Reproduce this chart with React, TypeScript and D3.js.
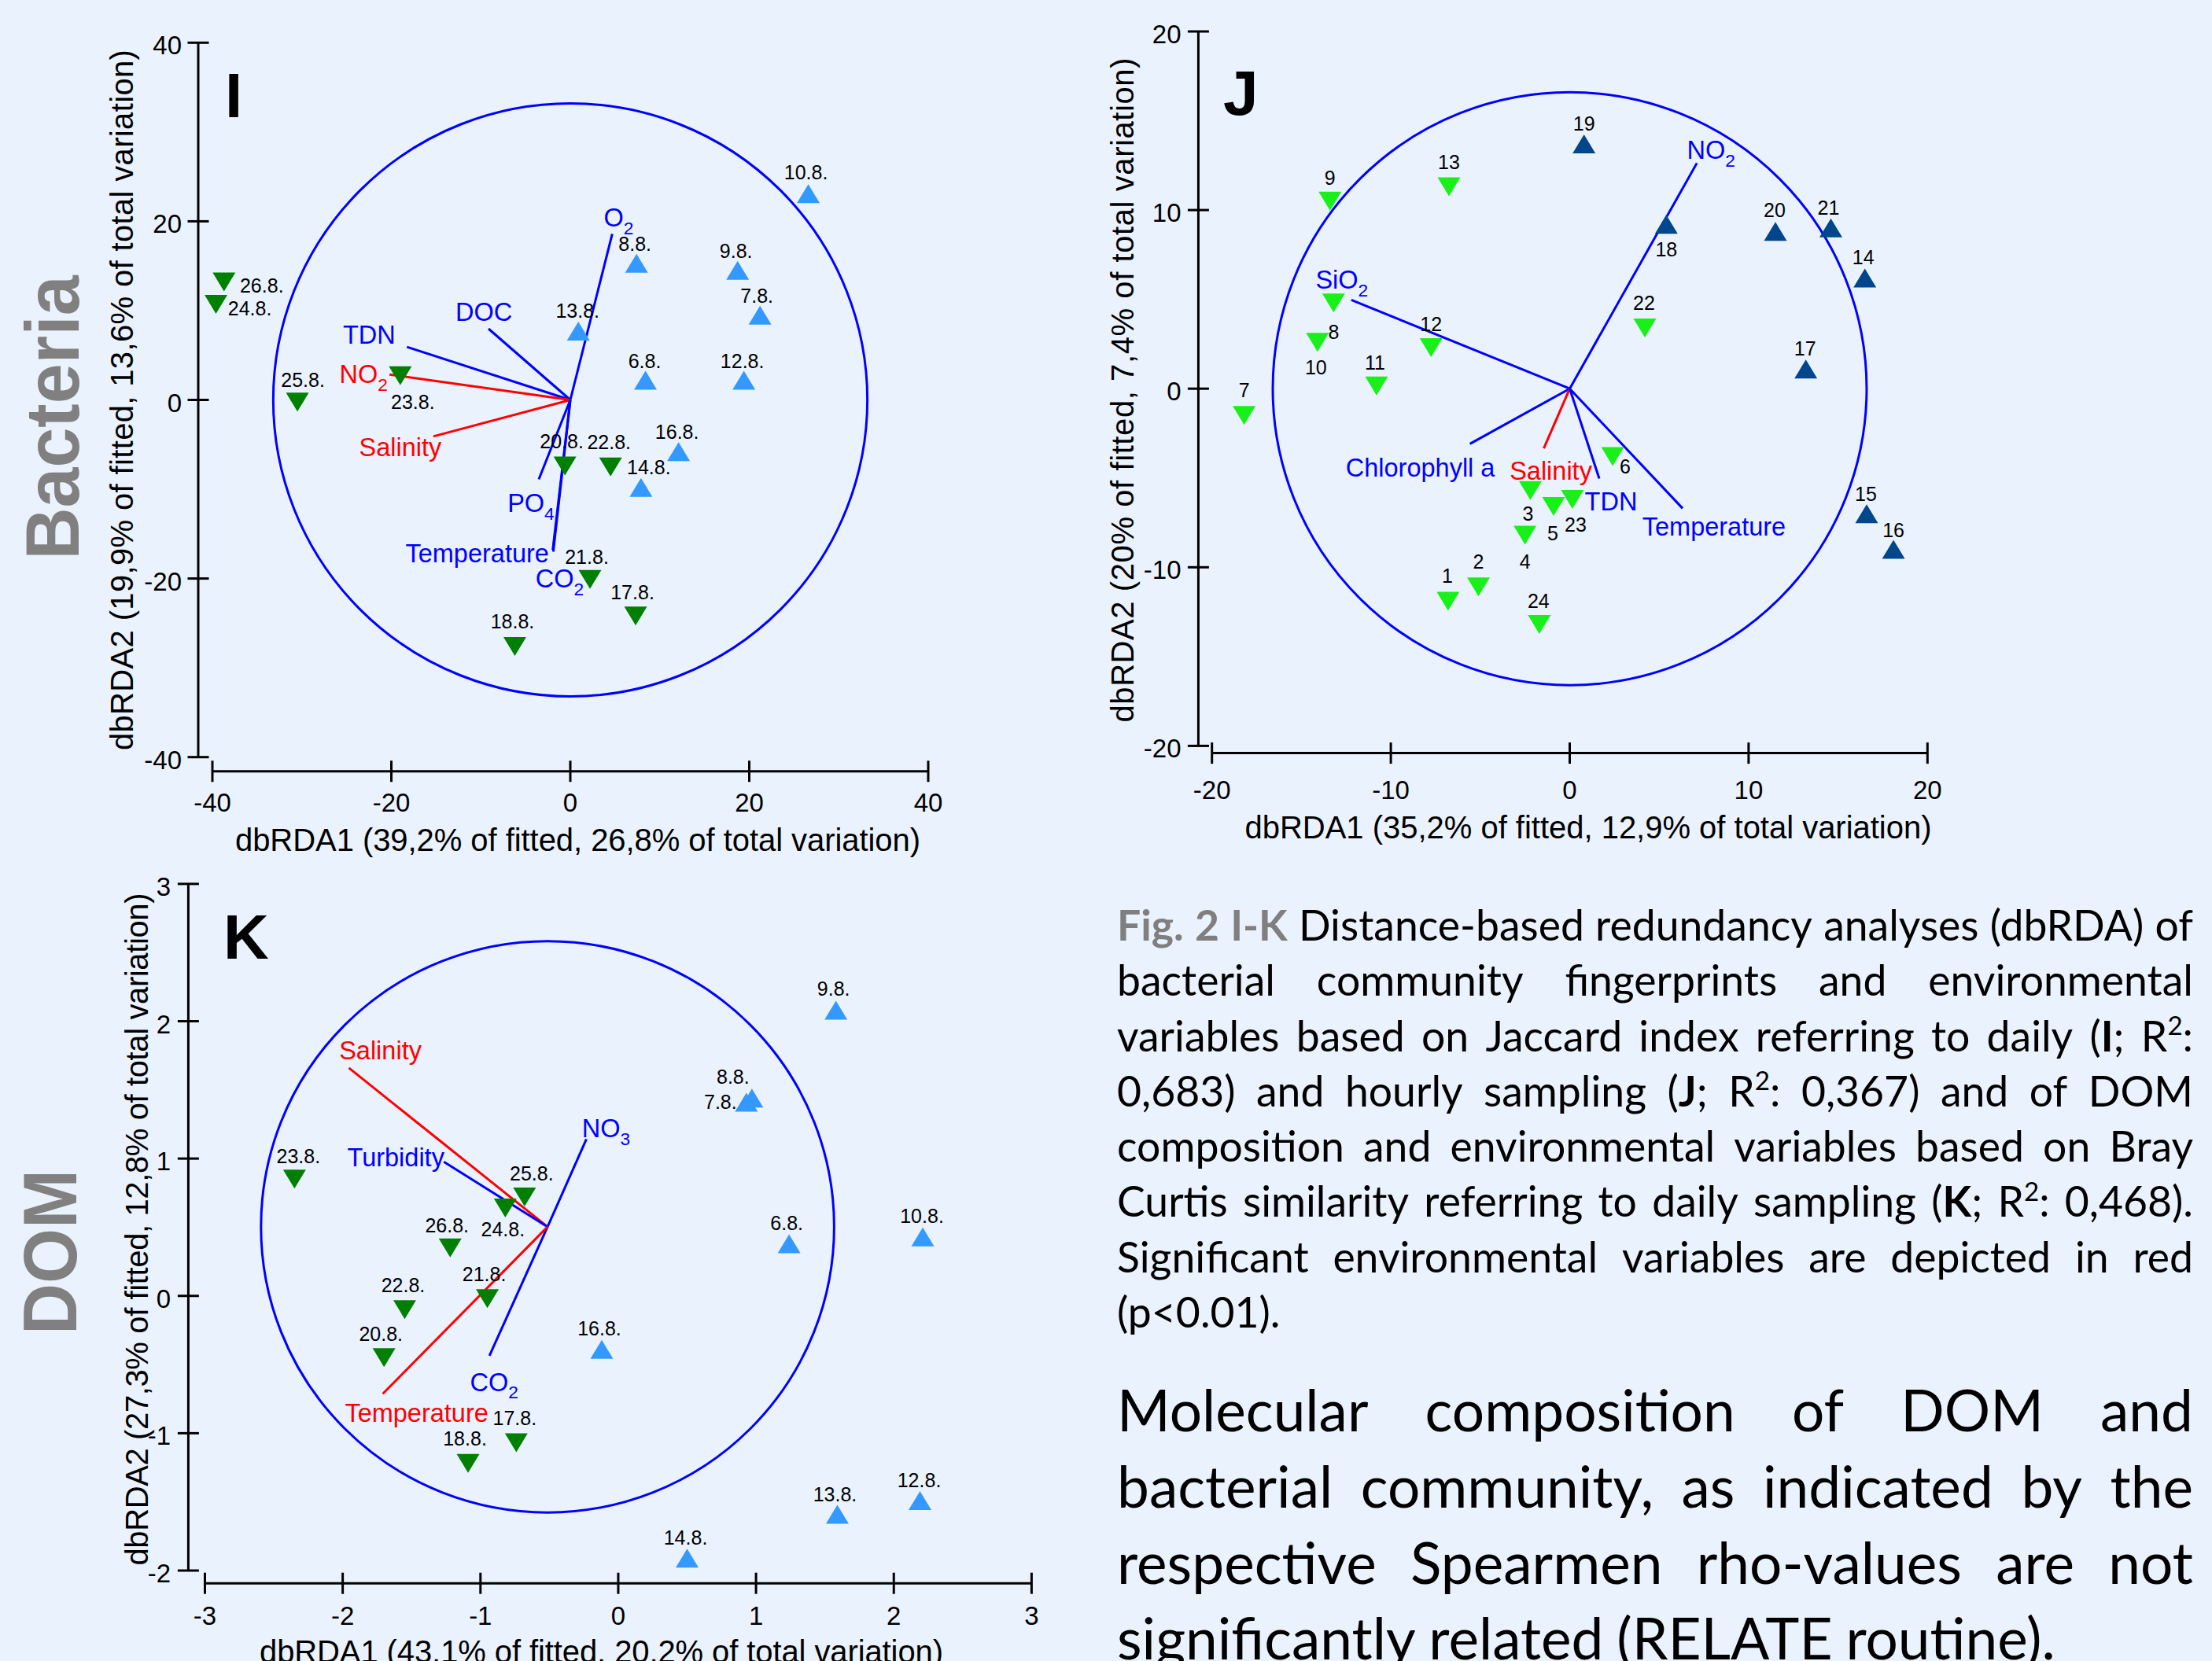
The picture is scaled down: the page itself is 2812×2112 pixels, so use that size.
import React, { useEffect, useRef } from "react";
import * as d3 from "d3";

// ---------------- Panel I : Bacteria, daily sampling ----------------
const iSamples = ["10.8.", "8.8.", "9.8.", "7.8.", "13.8.", "6.8.", "12.8.", "16.8.", "14.8.", "26.8.", "24.8.", "25.8.", "23.8.", "20.8.", "22.8.", "21.8.", "17.8.", "18.8."];
const iAxis1 = [26.6, 7.4, 18.7, 21.2, 0.9, 8.4, 19.4, 12.1, 7.9, -38.7, -39.6, -30.5, -19.0, -0.6, 4.5, 2.2, 7.3, -6.2];
const iAxis2 = [23.1, 15.3, 14.5, 9.5, 7.7, 2.2, 2.2, -5.8, -9.8, 13.2, 10.7, -0.25, 2.7, -7.4, -7.5, -20.1, -24.2, -27.6];
const iGroup = ["early", "early", "early", "early", "early", "early", "early", "early", "early", "late", "late", "late", "late", "late", "late", "late", "late", "late"];
const iVars = ["O2", "DOC", "TDN", "NO2", "Salinity", "PO4", "Temperature", "CO2"];
const iVarAxis1 = [4.69, -9.14, -18.26, -20.2, -15.3, -3.52, -1.96, -1.9];
const iVarAxis2 = [18.6, 7.97, 5.93, 2.84, -4.08, -8.9, -16.8, -17.0];
const iVarSignificant = [false, false, false, true, true, false, false, false];
const iTicks = [-40, -20, 0, 20, 40];

// ---------------- Panel J : Bacteria, hourly sampling ----------------
const jSamples = ["1", "2", "3", "4", "5", "6", "7", "8", "9", "10", "11", "12", "13", "14", "15", "16", "17", "18", "19", "20", "21", "22", "23", "24"];
const jAxis1 = [-6.8, -5.1, -2.2, -2.5, -0.9, 2.4, -18.2, -13.2, -13.4, -14.1, -10.8, -7.75, -6.75, 16.5, 16.6, 18.1, 13.2, 5.4, 0.8, 11.5, 14.6, 4.2, 0.15, -1.7];
const jAxis2 = [-11.9, -11.1, -5.7, -8.2, -6.6, -3.8, -1.5, 4.8, 10.5, 2.6, 0.15, 2.3, 11.3, 6.2, -7.0, -9.0, 1.1, 9.2, 13.7, 8.8, 9.0, 3.4, -6.2, -13.2];
const jGroup = ["a", "a", "a", "a", "a", "a", "a", "a", "a", "a", "a", "a", "a", "b", "b", "b", "b", "b", "b", "b", "b", "a", "a", "a"];
const jVars = ["NO2", "SiO2", "Chlorophyll a", "Salinity", "TDN", "Temperature"];
const jVarAxis1 = [7.11, -12.21, -5.58, -1.45, 1.65, 6.31];
const jVarAxis2 = [12.63, 4.97, -3.09, -3.34, -5.03, -6.7];
const jVarSignificant = [false, false, false, true, false, false];
const jTicks = [-20, -10, 0, 10, 20];

// ---------------- Panel K : DOM, daily sampling ----------------
const kSamples = ["9.8.", "8.8.", "7.8.", "6.8.", "10.8.", "16.8.", "13.8.", "12.8.", "14.8.", "23.8.", "25.8.", "24.8.", "26.8.", "21.8.", "22.8.", "20.8.", "17.8.", "18.8."];
const kAxis1 = [1.58, 0.97, 0.93, 1.24, 2.21, -0.12, 1.59, 2.19, 0.5, -2.35, -0.68, -0.82, -1.22, -0.95, -1.55, -1.7, -0.74, -1.09];
const kAxis2 = [2.08, 1.44, 1.41, 0.38, 0.43, -0.39, -1.59, -1.49, -1.91, 0.85, 0.72, 0.64, 0.35, -0.02, -0.1, -0.45, -1.07, -1.22];
const kGroup = ["early", "early", "early", "early", "early", "early", "early", "early", "early", "late", "late", "late", "late", "late", "late", "late", "late", "late"];
const kVars = ["Salinity", "Turbidity", "NO3", "CO2", "Temperature"];
const kVarAxis1 = [-1.955, -1.266, -0.231, -0.935, -1.709];
const kVarAxis2 = [1.66, 0.976, 1.142, -0.436, -0.713];
const kVarSignificant = [true, false, false, false, true];
const kOrigin = [-0.513, 0.503];
const kXTicks = [-3, -2, -1, 0, 1, 2, 3];
const kYTicks = [-2, -1, 0, 1, 2, 3];

// ---------------- Caption texts ----------------
const captionLines = [
  "{Fig.} {2} {I-K} Distance-based redundancy analyses (dbRDA) of",
  "bacterial community fingerprints and environmental",
  "variables based on Jaccard index referring to daily (*I*; R^2:",
  "0,683) and hourly sampling (*J*; R^2: 0,367) and of DOM",
  "composition and environmental variables based on Bray",
  "Curtis similarity referring to daily sampling (*K*; R^2: 0,468).",
  "Significant environmental variables are depicted in red",
  "(p<0.01).",
];
const bodyLines = [
  "Molecular composition of DOM and",
  "bacterial community, as indicated by the",
  "respective Spearmen rho-values are not",
  "significantly related (RELATE routine).",
];

// ---------------- Layout (label offsets in px, not data) ----------------
const iPointLabelOffset = [[-3, -27], [-2, -25], [-2, -25], [-4, -25], [-1, -26], [-1, -25], [-2, -25], [-2, -25], [10, -26], [48, 4], [43, 5], [7, -28], [16, 33], [-4, -32], [-2, -32], [-4, -29], [-4, -30], [-3, -32]];
const iVarLabelOffset = [[8, -21], [-6, -22], [-48, -16], [-33, -1], [-42, 13], [-10, 30], [-96, 4], [8, 34]];
const jPointLabelOffset = [[-1, -32], [0, -32], [-3, 29], [0, 34], [-1, 34], [16, 13], [0, -32], [0, 37], [0, -30], [-2, 32], [-2, -30], [0, -30], [0, -32], [-2, -26], [-1, -25], [0, -25], [-1, -26], [0, 32], [0, -26], [-1, -27], [-3, -26], [-1, -32], [4, 32], [-1, -30]];
const jVarLabelOffset = [[18, -17], [-12, -26], [-63, 30], [9, 28], [15, 29], [40, 23]];
const kPointLabelOffset = [[-3, -28], [-24, -27], [-33, -1], [-3, -26], [-1, -27], [-3, -27], [-3, -25], [-1, -26], [-2, -26], [5, -29], [9, -30], [-3, 27], [-4, -29], [-4, -31], [-2, -31], [-4, -30], [-2, -32], [-4, -32]];
const kVarLabelOffset = [[40, -23], [-61, -6], [25, -14], [6, 33], [43, 24]];

const BG = "#EAF2FD";
const FONT = "'Liberation Sans', Arial, sans-serif";
const BLUE = "#0000FF";
const RED = "#FF0000";

function Chem({ name, size }: { name: string; size: number }) {
  const m = name.match(/^([A-Za-z]+)(\d)$/);
  if (!m) return <>{name}</>;
  return (
    <>
      {m[1]}
      <tspan fontSize={size * 0.7} dy={size * 0.3}>{m[2]}</tspan>
    </>
  );
}

type PanelCfg = {
  xDomain: [number, number]; xRange: [number, number];
  yDomain: [number, number]; yRange: [number, number];
  yAxisX: number; xAxisY: number;
  xTicks: number[]; yTicks: number[];
  yLabelRight: number; xLabelBase: number;
  xTitle: string; xTitleX: number; xTitleY: number; xTitleLen: number;
  yTitle: string; yTitleX: number; yTitleY: number; yTitleLen: number;
  letter: string; letterX: number; letterY: number;
  names: string[]; xs: number[]; ys: number[]; colors: string[]; up: boolean[];
  pointOffsets: number[][];
  vars: string[]; vx: number[]; vy: number[]; sig: boolean[]; varOffsets: number[][];
  origin: number[]; radius: number;
};

function Panel({ c }: { c: PanelCfg }) {
  const x = d3.scaleLinear().domain(c.xDomain).range(c.xRange);
  const y = d3.scaleLinear().domain(c.yDomain).range(c.yRange);
  const ox = x(c.origin[0]);
  const oy = y(c.origin[1]);
  const rx = x(c.origin[0] + c.radius) - ox;
  const ry = oy - y(c.origin[1] + c.radius);
  const T = 13.5;
  const s = 29, h = 24;
  const tri = (px: number, py: number, up: boolean) =>
    up
      ? `M${px},${py - h / 2}L${px + s / 2},${py + h / 2}L${px - s / 2},${py + h / 2}Z`
      : `M${px},${py + h / 2}L${px + s / 2},${py - h / 2}L${px - s / 2},${py - h / 2}Z`;
  const VF = 32.5;
  const PF = 25;
  return (
    <g fontFamily={FONT}>
      <ellipse cx={ox} cy={oy} rx={rx} ry={ry} fill="none" stroke={BLUE} strokeWidth={3} />
      {c.vars.map((v, i) => (
        <line key={"v" + i} x1={ox} y1={oy} x2={x(c.vx[i])} y2={y(c.vy[i])} stroke={c.sig[i] ? RED : BLUE} strokeWidth={3} />
      ))}
      {c.names.map((n, i) => (
        <path key={"p" + i} d={tri(x(c.xs[i]), y(c.ys[i]), c.up[i])} fill={c.colors[i]} />
      ))}
      {c.names.map((n, i) => (
        <text key={"l" + i} x={x(c.xs[i]) + c.pointOffsets[i][0]} y={y(c.ys[i]) + c.pointOffsets[i][1] + PF * 0.36} fontSize={PF} textAnchor="middle" fill="#000">{n}</text>
      ))}
      {c.vars.map((v, i) => (
        <text key={"vl" + i} x={x(c.vx[i]) + c.varOffsets[i][0]} y={y(c.vy[i]) + c.varOffsets[i][1] + VF * 0.36} fontSize={VF} textAnchor="middle" fill={c.sig[i] ? RED : BLUE}>
          <Chem name={v} size={VF} />
        </text>
      ))}
      {/* axes */}
      <line x1={c.yAxisX} x2={c.yAxisX} y1={y(c.yDomain[1])} y2={y(c.yDomain[0])} stroke="#000" strokeWidth={3} />
      {c.yTicks.map((t) => (
        <g key={"yt" + t}>
          <line x1={c.yAxisX - T} x2={c.yAxisX + T} y1={y(t)} y2={y(t)} stroke="#000" strokeWidth={3} />
          <text x={c.yLabelRight} y={y(t) + 15} fontSize={33} textAnchor="end">{String(t)}</text>
        </g>
      ))}
      <line x1={x(c.xDomain[0])} x2={x(c.xDomain[1])} y1={c.xAxisY} y2={c.xAxisY} stroke="#000" strokeWidth={3} />
      {c.xTicks.map((t) => (
        <g key={"xt" + t}>
          <line x1={x(t)} x2={x(t)} y1={c.xAxisY - T} y2={c.xAxisY + T} stroke="#000" strokeWidth={3} />
          <text x={x(t)} y={c.xLabelBase} fontSize={33} textAnchor="middle">{String(t)}</text>
        </g>
      ))}
      <text x={c.xTitleX} y={c.xTitleY} fontSize={40} textAnchor="middle" textLength={c.xTitleLen} lengthAdjust="spacing">{c.xTitle}</text>
      <text transform={`translate(${c.yTitleX},${c.yTitleY}) rotate(-90)`} fontSize={40} textAnchor="middle" textLength={c.yTitleLen} lengthAdjust="spacing">{c.yTitle}</text>
      <text x={c.letterX} y={c.letterY} fontSize={80} fontWeight="bold">{c.letter}</text>
    </g>
  );
}

type Seg = { t: string; bold: boolean; gray: boolean; sup: boolean };
function parseWord(w: string): Seg[] {
  const segs: Seg[] = [];
  let bold = false, gray = false, cur = "";
  const push = () => { if (cur) segs.push({ t: cur, bold, gray, sup: false }); cur = ""; };
  for (let i = 0; i < w.length; i++) {
    const ch = w[i];
    if (ch === "{") { push(); gray = true; bold = true; continue; }
    if (ch === "}") { push(); gray = false; bold = false; continue; }
    if (ch === "*") { push(); bold = !bold; continue; }
    if (ch === "^") { push(); segs.push({ t: w[i + 1], bold, gray, sup: true }); i++; continue; }
    cur += ch;
  }
  push();
  return segs;
}

function layoutBlock(g: any, lines: string[], lastIdx: number[], x0: number, x1: number, base0: number, lineH: number, fs: number) {
  lines.forEach((line, li) => {
    const words = line.split(" ").map(parseWord);
    const yb = base0 + li * lineH;
    const nodes = words.map((segs) => {
      const t = g.append("text").attr("y", yb).attr("font-size", fs).attr("font-family", "Lato, 'Open Sans', sans-serif").attr("fill", "#000");
      let shift = 0;
      segs.forEach((sg) => {
        const ts = t.append("tspan").text(sg.t);
        if (sg.bold) ts.attr("font-weight", "bold");
        if (sg.gray) ts.attr("fill", "#7F7F7F");
        const target = sg.sup ? -0.38 * fs : 0;
        if (target !== shift) { ts.attr("dy", target - shift); shift = target; }
        if (sg.sup) ts.attr("font-size", fs * 0.62);
      });
      return t;
    });
    const widths = nodes.map((n: any) => n.node().getComputedTextLength());
    const total = d3.sum(widths);
    const justify = !lastIdx.includes(li) && words.length > 1;
    const gap = justify ? (x1 - x0 - total) / (words.length - 1) : fs * 0.23;
    let cx = x0;
    nodes.forEach((n: any, i: number) => { n.attr("x", cx); cx += widths[i] + gap; });
  });
}

export default function App() {
  const capRef = useRef<SVGGElement>(null);
  useEffect(() => {
    const run = () => {
      const g = d3.select(capRef.current);
      g.selectAll("*").remove();
      layoutBlock(g, captionLines, [7], 1420, 2788, 1196, 70.26, 53.5);
      layoutBlock(g, bodyLines, [3], 1420, 2788, 1820, 96.8, 73);
    };
    if ((document as any).fonts && (document as any).fonts.ready) {
      (document as any).fonts.ready.then(run);
    } else run();
  }, []);

  const cfgI: PanelCfg = {
    xDomain: [-40, 40], xRange: [270, 1180], yDomain: [-40, 40], yRange: [962.7, 54.3],
    yAxisX: 252, xAxisY: 980.7, xTicks: iTicks, yTicks: iTicks, yLabelRight: 231, xLabelBase: 1032,
    xTitle: "dbRDA1 (39,2% of fitted, 26,8% of total variation)", xTitleX: 734.5, xTitleY: 1082, xTitleLen: 871,
    yTitle: "dbRDA2 (19,9% of fitted, 13,6% of total variation)", yTitleX: 169, yTitleY: 508.6, yTitleLen: 891,
    letter: "I", letterX: 286, letterY: 149,
    names: iSamples, xs: iAxis1, ys: iAxis2, colors: iGroup.map((g) => (g === "early" ? "#3399FF" : "#008000")), up: iGroup.map((g) => g === "early"),
    pointOffsets: iPointLabelOffset,
    vars: iVars, vx: iVarAxis1, vy: iVarAxis2, sig: iVarSignificant, varOffsets: iVarLabelOffset,
    origin: [0, 0], radius: 33.2,
  };
  const cfgJ: PanelCfg = {
    xDomain: [-20, 20], xRange: [1540.7, 2450.3], yDomain: [-20, 20], yRange: [948.4, 40],
    yAxisX: 1523.4, xAxisY: 957.6, xTicks: jTicks, yTicks: jTicks, yLabelRight: 1501.5, xLabelBase: 1016,
    xTitle: "dbRDA1 (35,2% of fitted, 12,9% of total variation)", xTitleX: 2019, xTitleY: 1066, xTitleLen: 873,
    yTitle: "dbRDA2 (20% of fitted, 7,4% of total variation)", yTitleX: 1441, yTitleY: 496, yTitleLen: 845,
    letter: "J", letterX: 1555, letterY: 146,
    names: jSamples, xs: jAxis1, ys: jAxis2, colors: jGroup.map((g) => (g === "a" ? "#19F019" : "#00468C")), up: jGroup.map((g) => g === "b"),
    pointOffsets: jPointLabelOffset,
    vars: jVars, vx: jVarAxis1, vy: jVarAxis2, sig: jVarSignificant, varOffsets: jVarLabelOffset,
    origin: [0, 0], radius: 16.6,
  };
  const cfgK: PanelCfg = {
    xDomain: [-3, 3], xRange: [260.5, 1311.4], yDomain: [-2, 3], yRange: [1997, 1123.9],
    yAxisX: 239.4, xAxisY: 2013.2, xTicks: kXTicks, yTicks: kYTicks, yLabelRight: 217, xLabelBase: 2066,
    xTitle: "dbRDA1 (43,1% of fitted, 20,2% of total variation)", xTitleX: 764.5, xTitleY: 2114, xTitleLen: 869,
    yTitle: "dbRDA2 (27,3% of fitted, 12,8% of total variation)", yTitleX: 188, yTitleY: 1563, yTitleLen: 855,
    letter: "K", letterX: 284, letterY: 1219,
    names: kSamples, xs: kAxis1, ys: kAxis2, colors: kGroup.map((g) => (g === "early" ? "#3399FF" : "#008000")), up: kGroup.map((g) => g === "early"),
    pointOffsets: kPointLabelOffset,
    vars: kVars, vx: kVarAxis1, vy: kVarAxis2, sig: kVarSignificant, varOffsets: kVarLabelOffset,
    origin: kOrigin, radius: 2.08,
  };

  return (
    <svg width={2812} height={2112} style={{ position: "absolute", left: 0, top: 0, display: "block" }} xmlns="http://www.w3.org/2000/svg">
      <rect x={0} y={0} width={2812} height={2112} fill={BG} />
      <text transform="translate(100,531) rotate(-90)" fontFamily={FONT} fontSize={97} fontWeight="bold" fill="#808080" textAnchor="middle" textLength={361} lengthAdjust="spacingAndGlyphs">Bacteria</text>
      <text transform="translate(97,1592) rotate(-90)" fontFamily={FONT} fontSize={97} fontWeight="bold" fill="#808080" textAnchor="middle" textLength={210} lengthAdjust="spacingAndGlyphs">DOM</text>
      <Panel c={cfgI} />
      <Panel c={cfgJ} />
      <Panel c={cfgK} />
      <g ref={capRef} />
    </svg>
  );
}
